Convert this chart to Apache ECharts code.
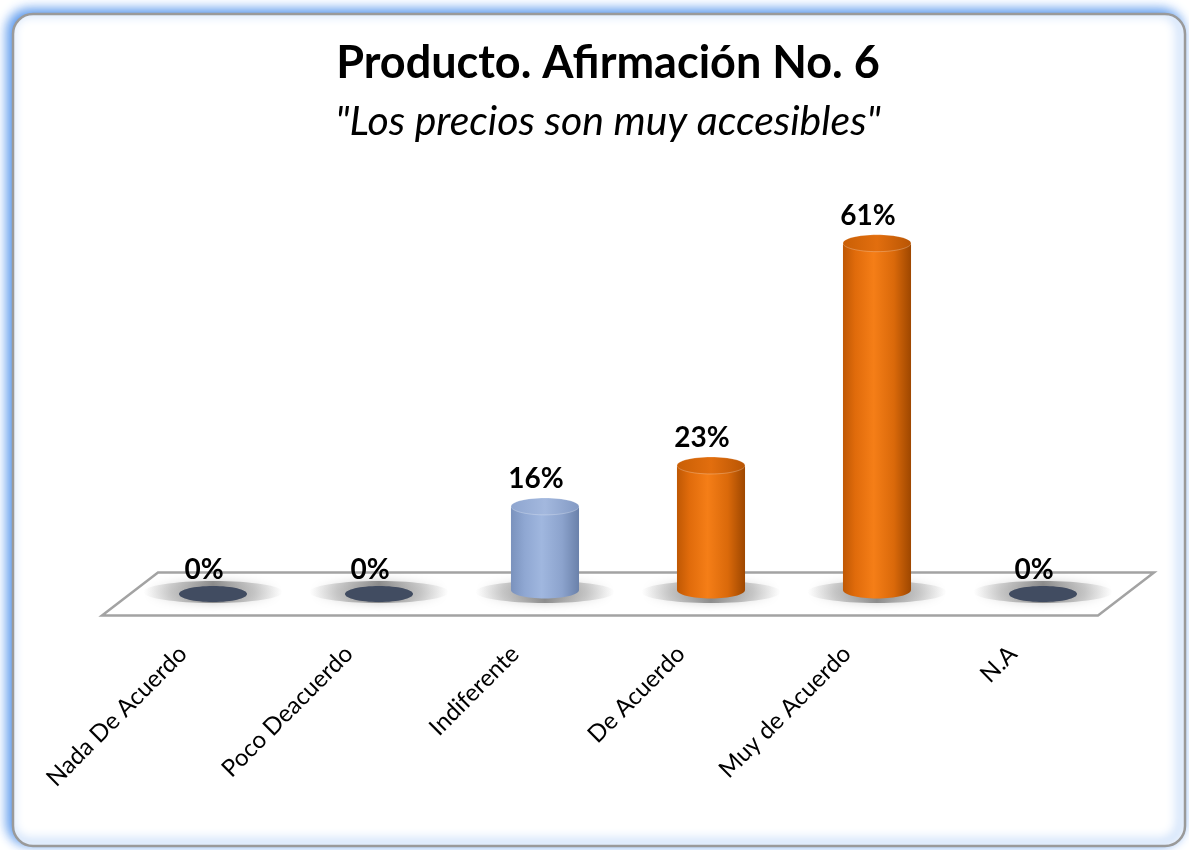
<!DOCTYPE html>
<html><head><meta charset="utf-8">
<script src="https://cdn.jsdelivr.net/npm/echarts@6/dist/echarts.min.js"></script>
<style>html,body{margin:0;padding:0;background:#fff}#c{width:1189px;height:850px}</style>
</head><body><div id="c"></div>
<script>
// ---- data ----
var categories = ['Nada De Acuerdo', 'Poco Deacuerdo', 'Indiferente', 'De Acuerdo', 'Muy de Acuerdo', 'N.A'];
var values = [0, 0, 16, 23, 61, 0];
var valueLabels = ['0%', '0%', '16%', '23%', '61%', '0%'];
var titleText = 'Producto. Afirmación No. 6';
var subtitleText = '"Los precios son muy accesibles"';

// ---- styles ----
var FONT = 'Lato, "Open Sans", sans-serif';
var palette = {
  orange: {
    body: [{offset: 0, color: '#BF5804'}, {offset: 0.18, color: '#E06B0B'}, {offset: 0.45, color: '#F57E17'}, {offset: 0.75, color: '#DA690A'}, {offset: 1, color: '#9E4700'}],
    top: [{offset: 0, color: '#C95F06'}, {offset: 0.5, color: '#E26E0E'}, {offset: 1, color: '#B85504'}]
  },
  blue: {
    body: [{offset: 0, color: '#7A92BD'}, {offset: 0.2, color: '#8FA7D2'}, {offset: 0.45, color: '#A0B7DF'}, {offset: 0.75, color: '#8CA3CD'}, {offset: 1, color: '#6A81AA'}],
    top: [{offset: 0, color: '#8EA5CF'}, {offset: 0.5, color: '#A3B8DE'}, {offset: 1, color: '#8299C3'}]
  }
};
var barPalette = ['orange', 'orange', 'blue', 'orange', 'orange', 'orange'];
var zeroColor = '#414C61';

var chart = echarts.init(document.getElementById('c'), null, {renderer: 'canvas'});

function renderFloor(params, api) {
  var cs = params.coordSys;
  var zeroY = api.coord([0, 0])[1];
  var midY = zeroY - 6;
  var dx = 28, dy = 21.5;
  var x0 = cs.x, x1 = cs.x + cs.width;
  return {
    type: 'polygon',
    shape: {points: [[x0 - dx, midY + dy], [x1 - dx, midY + dy], [x1 + dx, midY - dy], [x0 + dx, midY - dy]]},
    style: {fill: '#FFFFFF', stroke: '#A3A3A3', lineWidth: 2.5}
  };
}

function renderBar(params, api) {
  var idx = params.dataIndex;
  var v = api.value(1);
  var top = api.coord([api.value(0), v]);
  var zero = api.coord([api.value(0), 0]);
  var bandW = api.size([1, 0])[0];
  var rx = bandW * 0.205, ry = 8.5;
  var cx = zero[0];
  var baseY = zero[1] - 10;
  var topY = Math.min(top[1], baseY);
  var children = [];
  var sw = bandW * 0.42;
  children.push({
    type: 'ellipse',
    shape: {cx: cx, cy: zero[1] - 8, rx: sw, ry: 11},
    style: {
      fill: new echarts.graphic.LinearGradient(0, 0, 1, 0, [
        {offset: 0, color: 'rgba(170,170,170,0)'},
        {offset: 0.2, color: 'rgba(150,150,150,0.4)'},
        {offset: 0.5, color: 'rgba(120,120,120,0.8)'},
        {offset: 0.8, color: 'rgba(150,150,150,0.4)'},
        {offset: 1, color: 'rgba(170,170,170,0)'}
      ]),
      shadowBlur: 10, shadowColor: 'rgba(140,140,140,0.6)'
    }
  });
  if (v > 0) {
    var p = palette[barPalette[idx]];
    var grad = new echarts.graphic.LinearGradient(0, 0, 1, 0, p.body);
    children.push({type: 'ellipse', shape: {cx: cx, cy: baseY, rx: rx, ry: ry}, style: {fill: grad}});
    children.push({type: 'rect', shape: {x: cx - rx, y: topY, width: 2 * rx, height: baseY - topY}, style: {fill: grad}});
    children.push({type: 'ellipse', shape: {cx: cx, cy: topY, rx: rx, ry: ry},
      style: {fill: new echarts.graphic.LinearGradient(0, 0, 1, 0, p.top), stroke: 'rgba(255,255,255,0.25)', lineWidth: 1}});
  } else {
    children.push({type: 'ellipse', shape: {cx: cx, cy: zero[1] - 6, rx: rx, ry: 8}, style: {fill: zeroColor}});
  }
  var labelY = v > 0 ? topY - ry - 19 : zero[1] - 30;
  children.push({
    type: 'text', x: cx - 9, y: labelY,
    style: {text: valueLabels[idx], fill: '#000', font: 'bold 28px ' + FONT, align: 'center', verticalAlign: 'middle'}
  });
  return {type: 'group', children: children};
}

var option = {
  backgroundColor: '#FFFFFF',
  animation: false,
  title: [
    {text: titleText, left: 603, top: 36, textAlign: 'center',
      textStyle: {fontFamily: FONT, fontWeight: 'bold', fontSize: 45, color: '#000'}},
    {text: subtitleText, left: 603, top: 96, textAlign: 'center',
      textStyle: {fontFamily: FONT, fontStyle: 'italic', fontWeight: 'normal', fontSize: 41, color: '#000'}}
  ],
  graphic: [{
    type: 'rect', z: -10,
    shape: {x: 13, y: 14, width: 1172, height: 832, r: 20},
    style: {fill: '#FFFFFF', stroke: '#9A9A9A', lineWidth: 2.5, shadowBlur: 12, shadowColor: 'rgba(70,140,235,1)', shadowOffsetX: -4, shadowOffsetY: -3}
  }],
  grid: [
    {left: 130, width: 996, top: 15, bottom: 250},
    {left: 100, width: 996, top: 15, bottom: 208}
  ],
  xAxis: [
    {type: 'category', gridIndex: 0, data: categories, axisLine: {show: false}, axisTick: {show: false}, axisLabel: {show: false}},
    {type: 'category', gridIndex: 1, data: categories, axisLine: {show: false}, axisTick: {show: false},
      axisLabel: {rotate: 45, margin: 8, interval: 0, fontFamily: FONT, fontSize: 24, color: '#000'}}
  ],
  yAxis: [
    {type: 'value', gridIndex: 0, min: 0, max: 100, show: false},
    {type: 'value', gridIndex: 1, min: 0, max: 100, show: false}
  ],
  series: [
    {type: 'custom', xAxisIndex: 0, yAxisIndex: 0, z: 1, silent: true, renderItem: renderFloor, data: [[0, 0]]},
    {type: 'custom', xAxisIndex: 0, yAxisIndex: 0, z: 2, renderItem: renderBar,
      encode: {x: 0, y: 1},
      data: values.map(function (v, i) { return [i, v]; })}
  ]
};
chart.setOption(option);
</script>
</body></html>
